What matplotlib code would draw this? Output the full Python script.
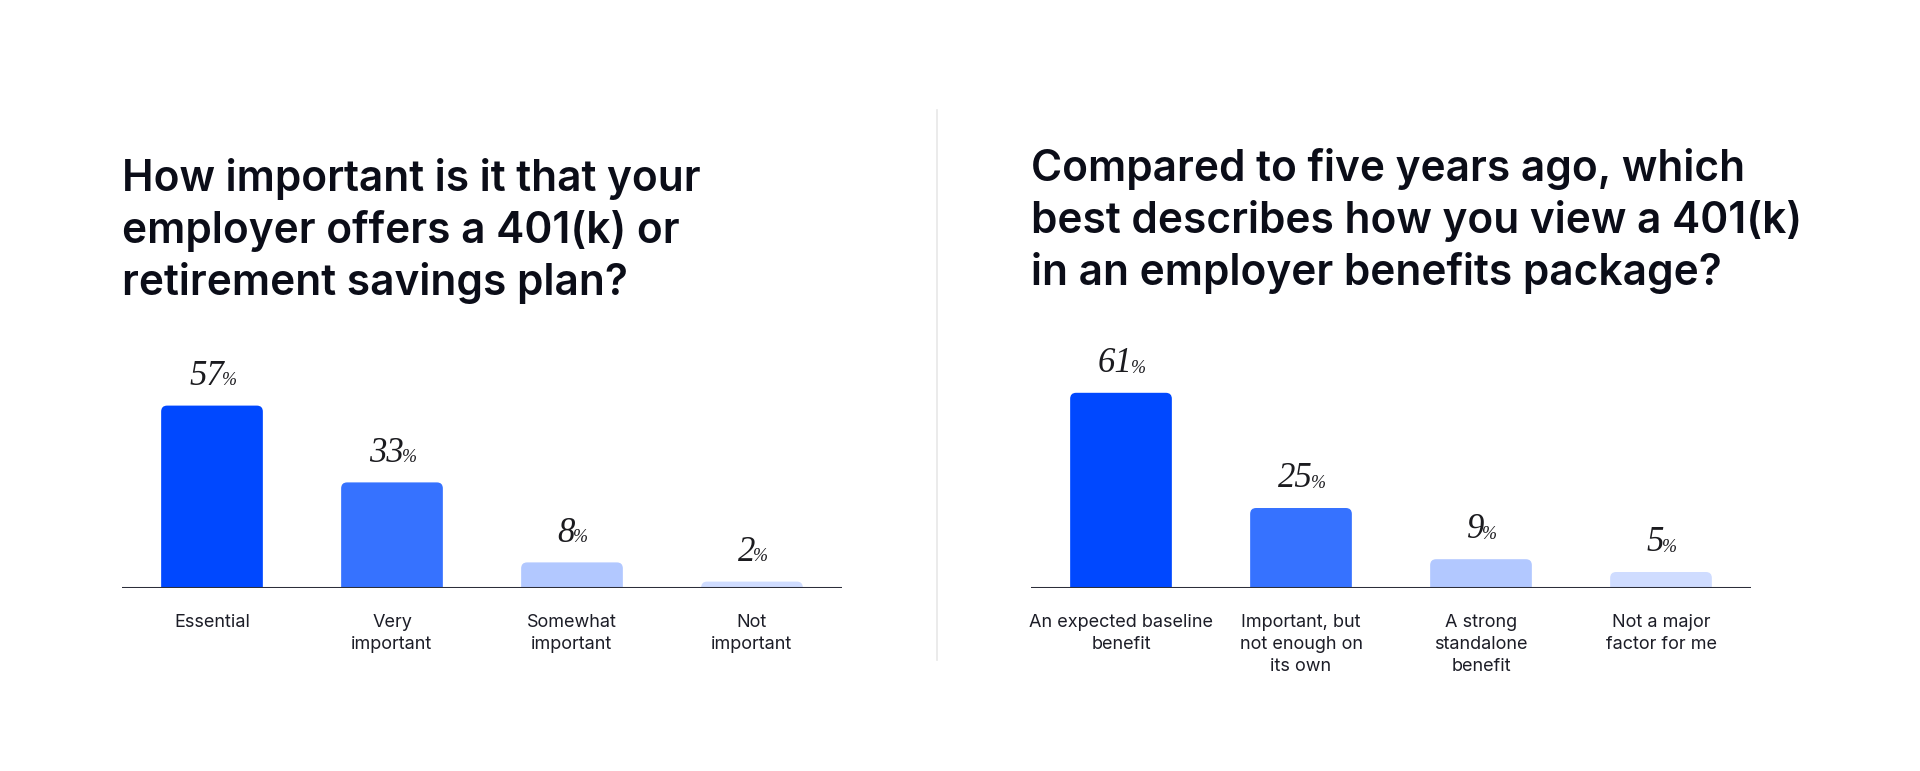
import matplotlib
matplotlib.use('Agg')
import matplotlib.pyplot as plt
from matplotlib.patches import FancyBboxPatch
from matplotlib.lines import Line2D

# data
left_title = 'How important is it that your\nemployer offers a 401(k) or\nretirement savings plan?'
left_labels = ['Essential', 'Very\nimportant', 'Somewhat\nimportant', 'Not\nimportant']
left_values = [57, 33, 8, 2]

right_title = ('Compared to five years ago, which\nbest describes how you view a 401(k)\n'
               'in an employer benefits package?')
right_labels = ['An expected baseline\nbenefit', 'Important, but\nnot enough on\nits own',
                'A strong\nstandalone\nbenefit', 'Not a major\nfactor for me']
right_values = [61, 25, 9, 5]

bar_colors = ['#0048ff', '#3672ff', '#b2c8ff', '#cfdcff']

W, H = 1920, 771
SANS = ['Inter', 'DejaVu Sans']
SERIF = ['Liberation Serif', 'DejaVu Serif']

fig = plt.figure(figsize=(W / 100, H / 100), dpi=100)
fig.patch.set_facecolor('white')

# pixel geometry of each panel
BASE = 588          # baseline (px from top)
PX_X = 180.0        # px per category
PX_Y = 3.2          # px per percent
YMAX = 70
RAD = 6             # corner radius, px


def panel(x0, labels, values, title, title_base):
    ax = fig.add_axes([x0 / W, (H - BASE) / H, 4 * PX_X / W, YMAX * PX_Y / H])
    ax.set_xlim(-0.5, 3.5)
    ax.set_ylim(0, YMAX)
    ax.axis('off')
    ax.axhline(0, color='#2c2e3a', lw=2.2, zorder=3)

    rx = RAD / PX_X
    ry = RAD / PX_Y
    bw = 0.565
    for i, v in enumerate(values):
        p = FancyBboxPatch((i - bw / 2, -ry), bw, v + ry,
                           boxstyle='round,pad=0,rounding_size=%f' % rx,
                           mutation_aspect=PX_X / PX_Y,
                           fc=bar_colors[i], ec='none', zorder=2)
        ax.add_patch(p)

        t = ax.annotate(str(v), xy=(i, v), xytext=(-4, 15), textcoords='offset points',
                        ha='center', va='baseline', fontsize=25,
                        family=SERIF, style='italic', color='#1b1b1f')
        ax.annotate('%', xy=(1, 0), xycoords=t, xytext=(-1.5, 2.4),
                    textcoords='offset points', ha='left', va='bottom',
                    fontsize=13, family=SERIF, style='italic', color='#1b1b1f')

        ax.annotate(labels[i], xy=(i, 0), xytext=(0, -18.5), textcoords='offset points',
                    ha='center', va='top', fontsize=13, family=SANS,
                    color='#1c1d27', linespacing=1.38, multialignment='center')

    # va='baseline' anchors the last line of a multi-line text
    fig.text(x0 / W, (H - title_base) / H, title, ha='left', va='baseline',
             fontsize=30.5, family=SANS, fontweight='semibold', color='#0b0d18',
             linespacing=1.3)
    return ax


panel(122, left_labels, left_values, left_title, 295)
panel(1031, right_labels, right_values, right_title, 285)

# divider between the two panels
fig.add_artist(Line2D([937 / W, 937 / W], [(H - 110) / H, (H - 660) / H],
                      color='#e8e8e8', lw=1.2))

fig.savefig('out.png', dpi=100, facecolor='white')
